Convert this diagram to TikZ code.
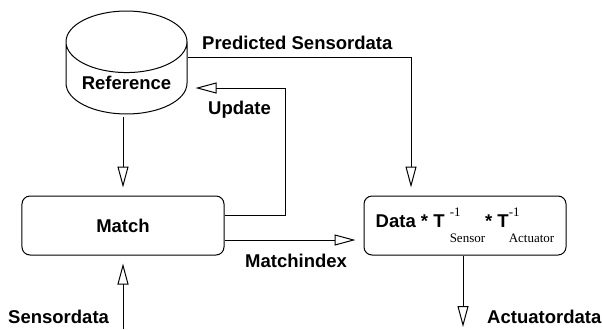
\documentclass[tikz,border=0pt]{standalone}
\usepackage{fontspec}
\setmainfont{Liberation Sans}
\newfontfamily\serifsub{Liberation Serif}
\usetikzlibrary{arrows.meta,shapes.geometric,positioning}

\newcommand{\diagfont}{\fontsize{18.5bp}{22bp}\selectfont\bfseries}

\tikzstyle{db_node} = [cylinder, shape border rotate=90, draw=black, line width=1bp, aspect=0.64, minimum width=121bp, minimum height=99bp, font=\diagfont]
\tikzstyle{block_node} = [rectangle, rounded corners=8bp, draw=black, line width=1bp, text centered, minimum width=202bp, minimum height=59bp, font=\diagfont]
\tikzstyle{label_node} = [anchor=base west, inner sep=0pt, font=\diagfont]
\tikzstyle{arrow} = [line width=1bp, -{Triangle[open, length=21bp, width=11bp]}, shorten >=8bp]

\newcommand{\supsub}[2]{\makebox[0pt][l]{\raisebox{11bp}{\mdseries\serifsub\fontsize{13bp}{13bp}\selectfont #1}}\raisebox{-15bp}{\mdseries\serifsub\fontsize{13bp}{13bp}\selectfont #2}}

\begin{document}
\begin{tikzpicture}[x=1bp, y=-1bp]
    \useasboundingbox (0,0) rectangle (603,329);

    \node (ref)   [db_node, anchor=shape center] at (126.5,62.5) {Reference};
    \node (match) [block_node] at (123,225.5) {Match};
    \node (data)  [block_node, right=139bp of match] {Data * T\ \supsub{-1}{Sensor}* T\supsub{-1}{Actuator}};

    \coordinate (sens_in) at (123,329);
    \coordinate (act_out) at (463,327);

    \draw [arrow, shorten <=3bp] (ref.south -| match) -- (match.north);
    \draw [arrow] (ref.east |- 0,57) -| ([xshift=-54bp]data.north);
    \draw [arrow] (match.east |- 0,215) -| (285,88) -- (ref.east |- 0,88);
    \draw [arrow] (match.east |- 0,240) -- (data.west |- 0,240);
    \draw [arrow] (sens_in) -- (match.south);
    \draw [arrow, shorten >=0bp] (data.south -| act_out) -- (act_out);

    \node (pred_lbl) [label_node] at (202,49.5) {Predicted Sensordata};
    \node (upd_lbl)  [label_node] at (208,114.5) {Update};
    \node (idx_lbl)  [label_node] at (245,267) {Matchindex};
    \node (sens_lbl) [label_node] at (8,323) {Sensordata};
    \node (act_lbl)  [label_node] at (487,323) {Actuatordata};
\end{tikzpicture}
\end{document}
